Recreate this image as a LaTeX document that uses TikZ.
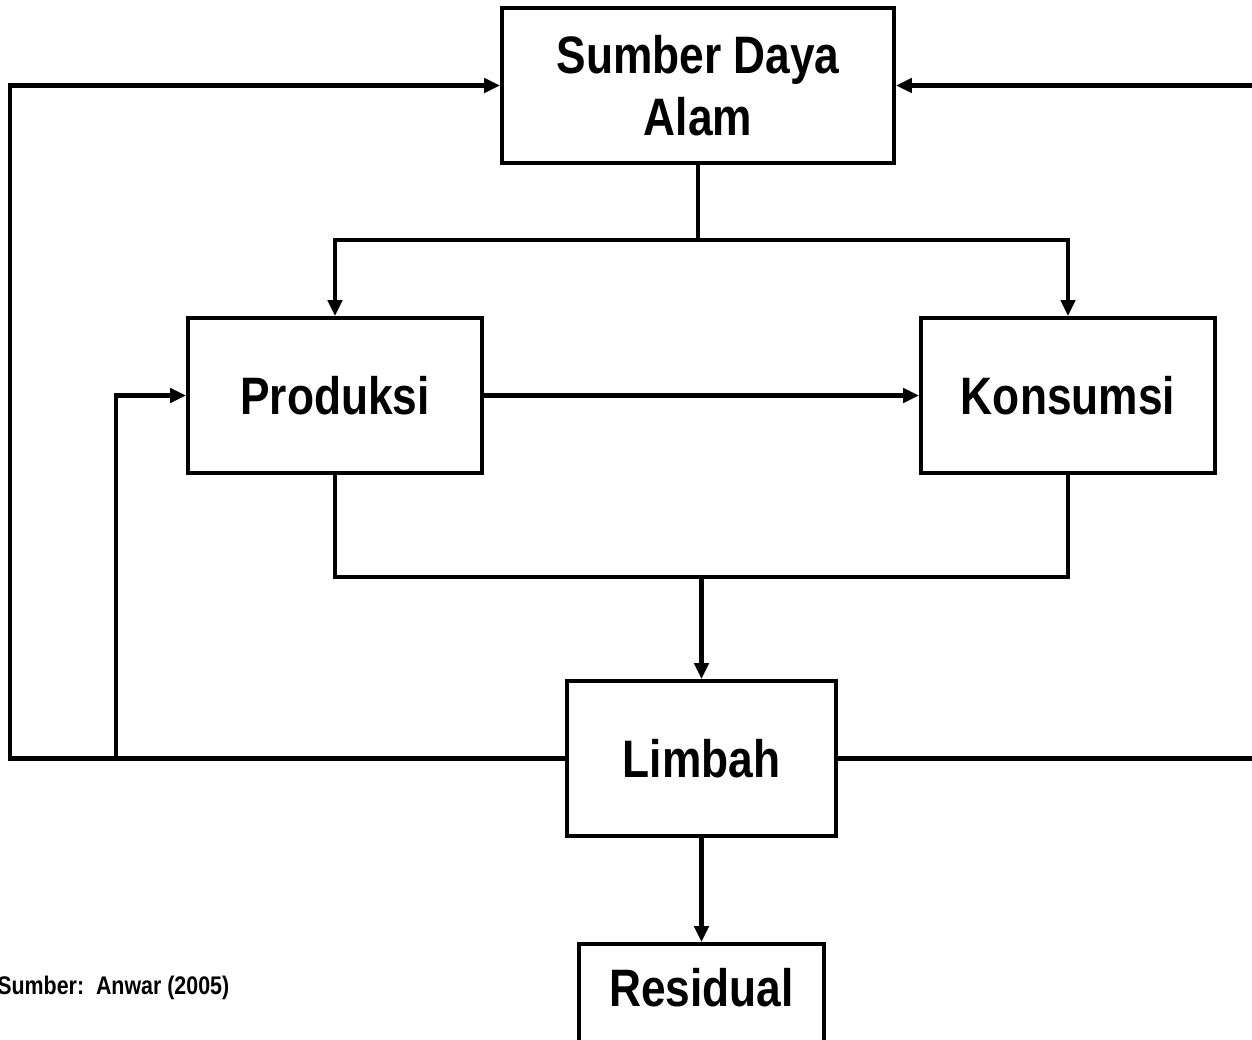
\documentclass[tikz,border=0pt]{standalone}
\usepackage{fontspec}
\setmainfont{Liberation Sans}[FakeStretch=0.84]
\usetikzlibrary{arrows.meta}
\begin{document}
\begin{tikzpicture}[x=0.02cm,y=-0.02cm,
  box/.style={draw, line width=2.3pt, inner sep=0pt, font=\bfseries\fontsize{30}{35}\selectfont, align=center},
  conn/.style={line width=2.3pt},
  arr/.style={conn, -{Triangle[length=9pt,width=8pt]}},
  lbl/.style={font=\bfseries\fontsize{30}{35}\selectfont, inner sep=0pt}]
\useasboundingbox (0,0) rectangle (1252,1040);
\clip (0,0) rectangle (1252,1040);
\node[box, minimum width=392*0.02cm, minimum height=155*0.02cm] (sda) at (698,85.5) {Sumber Daya\\Alam};
\node[box, minimum width=294*0.02cm, minimum height=155*0.02cm] (prod) at (335,395.5) {Produksi};
\node[box, minimum width=294*0.02cm, minimum height=155*0.02cm] (kons) at (1068,395.5) {Konsumsi};
\node[box, minimum width=269*0.02cm, minimum height=155*0.02cm] (limb) at (701.5,758.5) {Limbah};
\node[box, minimum width=245*0.02cm, minimum height=160*0.02cm, anchor=north] (res) at (701.5,942) {};
\node[lbl] (restext) at (701.5,988) {Residual};
\node[anchor=west, inner sep=0pt, font=\bfseries\fontsize{14.5}{17}\selectfont] (src) at (-3,988) {Sumber:\ \ Anwar (2005)};
\coordinate (ltop) at (10,85.5);
\coordinate (lbot) at (10,758.5);
\coordinate (rtop) at (1270,85.5);
\coordinate (rbot) at (1270,758.5);
\coordinate (split) at (698,240);
\coordinate (join) at (701.5,577);
\coordinate (br) at (116,758.5);
% top flows
\draw[conn] (sda.south) -- (split);
\draw[arr] (split) -| (prod.north);
\draw[arr] (split) -| (kons.north);
\draw[arr] (prod.east) -- (kons.west);
% to limbah
\draw[conn] (prod.south) |- (join) -| (kons.south);
\draw[arr] (join) -- (limb.north);
% limbah loops
\draw[arr] (limb.west) -- (lbot) -- (ltop) -- (sda.west);
\draw[arr] (limb.east) -- (rbot) -- (rtop) -- (sda.east);
\draw[arr] (br) |- (prod.west);
\draw[arr] (limb.south) -- (res.north);
\end{tikzpicture}
\end{document}
